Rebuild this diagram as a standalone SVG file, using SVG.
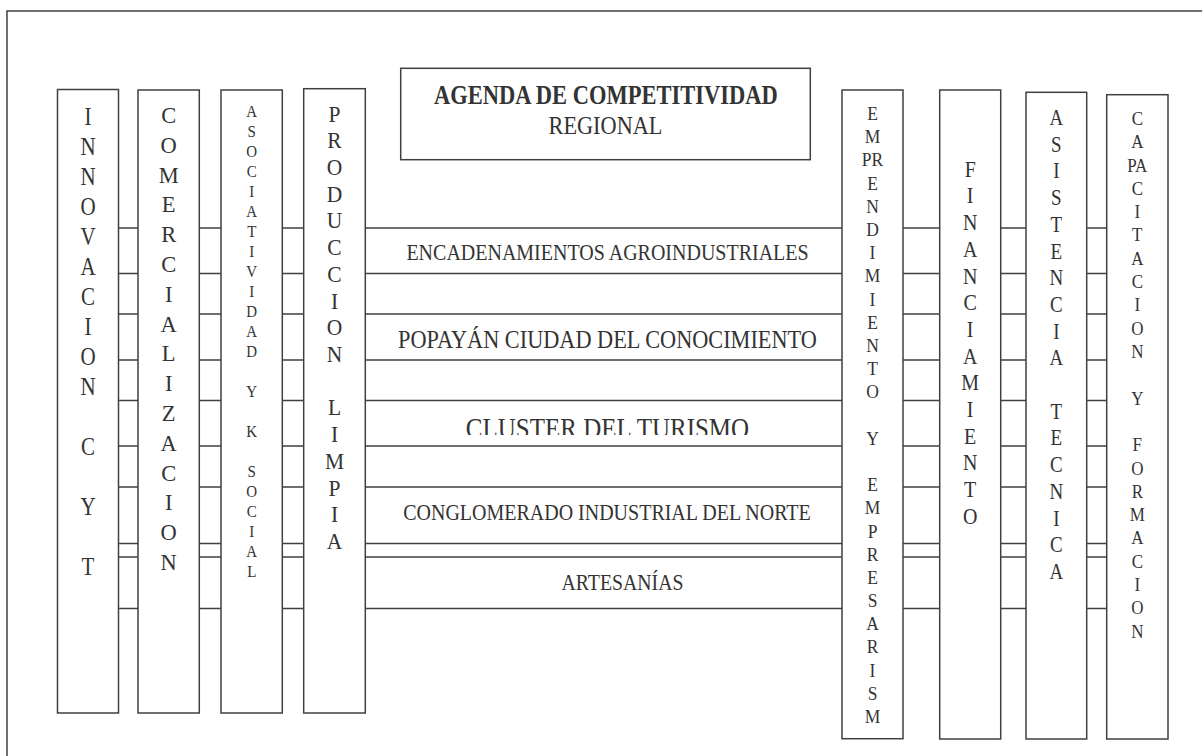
<svg xmlns="http://www.w3.org/2000/svg" width="1202" height="756" viewBox="0 0 1202 756">
<style>
.box{fill:#fff;stroke:#404040;stroke-width:1.5}
.ln{stroke:#404040;stroke-width:1.5;fill:none}
.t{font-family:"Liberation Serif","Times New Roman",serif;fill:#333;text-anchor:middle}
.b{font-weight:bold}
</style>
<defs>
<clipPath id="clipC"><rect x="380" y="400" width="460" height="35"/></clipPath>
</defs>
<rect x="0" y="0" width="1202" height="756" fill="#fff"/>
<path class="ln" d="M7,756 V11 H1202"/>
<g id="connectors">
<path class="ln" d="M118.5,228 H1106.7 M118.5,273.5 H1106.7 M118.5,314 H1106.7 M118.5,360 H1106.7 M118.5,400.5 H1106.7 M118.5,446 H1106.7 M118.5,487 H1106.7 M118.5,543.5 H1106.7 M118.5,557 H1106.7 M118.5,608.5 H1106.7"/>
</g>
<g id="labels">
<text class="t" font-size="20" transform="translate(607.5,260) scale(1,1.13)">ENCADENAMIENTOS AGROINDUSTRIALES</text>
<text class="t" font-size="22.3" transform="translate(607.5,348.3) scale(1,1.13)">POPAYÁN CIUDAD DEL CONOCIMIENTO</text>
<g clip-path="url(#clipC)"><text class="t" font-size="25" transform="translate(607.5,438.2) scale(1,1.2)">CLUSTER DEL TURISMO</text></g>
<text class="t" font-size="20" transform="translate(607,520) scale(1,1.19)">CONGLOMERADO INDUSTRIAL DEL NORTE</text>
<text class="t" font-size="19.8" transform="translate(622.5,590) scale(1,1.2)">ARTESANÍAS</text>
</g>
<g id="title">
<rect class="box" x="400.7" y="68.3" width="409.6" height="91.4"/>
<text class="t b" font-size="22.5" transform="translate(605.8,104.3) scale(1,1.2)">AGENDA DE COMPETITIVIDAD</text>
<text class="t" font-size="22.3" transform="translate(605.5,134) scale(1,1.17)">REGIONAL</text>
</g>
<g id="innovacion">
<rect class="box" x="57.5" y="89.5" width="61" height="623.5"/>
<text class="t" font-size="21" transform="translate(88,125) scale(1,1.18)"><tspan x="0" y="0">I</tspan><tspan x="0" y="25.42">N</tspan><tspan x="0" y="50.85">N</tspan><tspan x="0" y="76.27">O</tspan><tspan x="0" y="101.69">V</tspan><tspan x="0" y="127.12">A</tspan><tspan x="0" y="152.54">C</tspan><tspan x="0" y="177.97">I</tspan><tspan x="0" y="203.39">O</tspan><tspan x="0" y="228.81">N</tspan><tspan x="0" y="279.66">C</tspan><tspan x="0" y="330.51">Y</tspan><tspan x="0" y="381.36">T</tspan></text>
</g>
<g id="comercializacion">
<rect class="box" x="138" y="90" width="61.3" height="623"/>
<text class="t" font-size="22.5" transform="translate(168.7,123) scale(1,1.05)"><tspan x="0" y="0">C</tspan><tspan x="0" y="28.38">O</tspan><tspan x="0" y="56.76">M</tspan><tspan x="0" y="85.14">E</tspan><tspan x="0" y="113.52">R</tspan><tspan x="0" y="141.9">C</tspan><tspan x="0" y="170.28">I</tspan><tspan x="0" y="198.66">A</tspan><tspan x="0" y="227.04">L</tspan><tspan x="0" y="255.42">I</tspan><tspan x="0" y="283.8">Z</tspan><tspan x="0" y="312.18">A</tspan><tspan x="0" y="340.56">C</tspan><tspan x="0" y="368.94">I</tspan><tspan x="0" y="397.32">O</tspan><tspan x="0" y="425.7">N</tspan></text>
</g>
<g id="asociatividad">
<rect class="box" x="221" y="90" width="61.3" height="623"/>
<text class="t" font-size="15" transform="translate(251.7,116.7) scale(1,1.07)"><tspan x="0" y="0">A</tspan><tspan x="0" y="18.69">S</tspan><tspan x="0" y="37.38">O</tspan><tspan x="0" y="56.07">C</tspan><tspan x="0" y="74.76">I</tspan><tspan x="0" y="93.45">A</tspan><tspan x="0" y="112.14">T</tspan><tspan x="0" y="130.83">I</tspan><tspan x="0" y="149.52">V</tspan><tspan x="0" y="168.21">I</tspan><tspan x="0" y="186.9">D</tspan><tspan x="0" y="205.59">A</tspan><tspan x="0" y="224.28">D</tspan><tspan x="0" y="261.66">Y</tspan><tspan x="0" y="299.04">K</tspan><tspan x="0" y="336.42">S</tspan><tspan x="0" y="355.11">O</tspan><tspan x="0" y="373.8">C</tspan><tspan x="0" y="392.49">I</tspan><tspan x="0" y="411.18">A</tspan><tspan x="0" y="429.87">L</tspan></text>
</g>
<g id="produccion">
<rect class="box" x="303.7" y="88.7" width="61.6" height="624.3"/>
<text class="t" font-size="21.5" transform="translate(334.5,121.7) scale(1,1.06)"><tspan x="0" y="0">P</tspan><tspan x="0" y="25.19">R</tspan><tspan x="0" y="50.38">O</tspan><tspan x="0" y="75.57">D</tspan><tspan x="0" y="100.76">U</tspan><tspan x="0" y="125.95">C</tspan><tspan x="0" y="151.14">C</tspan><tspan x="0" y="176.33">I</tspan><tspan x="0" y="201.52">O</tspan><tspan x="0" y="226.71">N</tspan><tspan x="0" y="277.09">L</tspan><tspan x="0" y="302.28">I</tspan><tspan x="0" y="327.47">M</tspan><tspan x="0" y="352.66">P</tspan><tspan x="0" y="377.85">I</tspan><tspan x="0" y="403.04">A</tspan></text>
</g>
<g id="emprendimiento">
<rect class="box" x="842" y="90" width="61" height="648.7"/>
<text class="t" font-size="17.5" transform="translate(872.5,120) scale(1,1.09)"><tspan x="0" y="0">E</tspan><tspan x="0" y="21.28">M</tspan><tspan x="0" y="42.56">PR</tspan><tspan x="0" y="63.84">E</tspan><tspan x="0" y="85.12">N</tspan><tspan x="0" y="106.4">D</tspan><tspan x="0" y="127.68">I</tspan><tspan x="0" y="148.96">M</tspan><tspan x="0" y="170.24">I</tspan><tspan x="0" y="191.52">E</tspan><tspan x="0" y="212.8">N</tspan><tspan x="0" y="234.08">T</tspan><tspan x="0" y="255.36">O</tspan><tspan x="0" y="297.92">Y</tspan><tspan x="0" y="340.48">E</tspan><tspan x="0" y="361.76">M</tspan><tspan x="0" y="383.04">P</tspan><tspan x="0" y="404.32">R</tspan><tspan x="0" y="425.6">E</tspan><tspan x="0" y="446.88">S</tspan><tspan x="0" y="468.16">A</tspan><tspan x="0" y="489.44">R</tspan><tspan x="0" y="510.72">I</tspan><tspan x="0" y="532">S</tspan><tspan x="0" y="553.28">M</tspan></text>
</g>
<g id="financiamiento">
<rect class="box" x="939.7" y="90" width="61" height="649"/>
<text class="t" font-size="20" transform="translate(970.2,176.7) scale(1,1.15)"><tspan x="0" y="0">F</tspan><tspan x="0" y="23.22">I</tspan><tspan x="0" y="46.44">N</tspan><tspan x="0" y="69.66">A</tspan><tspan x="0" y="92.88">N</tspan><tspan x="0" y="116.1">C</tspan><tspan x="0" y="139.32">I</tspan><tspan x="0" y="162.54">A</tspan><tspan x="0" y="185.76">M</tspan><tspan x="0" y="208.98">I</tspan><tspan x="0" y="232.2">E</tspan><tspan x="0" y="255.42">N</tspan><tspan x="0" y="278.64">T</tspan><tspan x="0" y="301.86">O</tspan></text>
</g>
<g id="asistencia">
<rect class="box" x="1026" y="92.3" width="60.7" height="646.7"/>
<text class="t" font-size="19" transform="translate(1056.4,125) scale(1,1.18)"><tspan x="0" y="0">A</tspan><tspan x="0" y="22.63">S</tspan><tspan x="0" y="45.26">I</tspan><tspan x="0" y="67.89">S</tspan><tspan x="0" y="90.52">T</tspan><tspan x="0" y="113.15">E</tspan><tspan x="0" y="135.78">N</tspan><tspan x="0" y="158.41">C</tspan><tspan x="0" y="181.04">I</tspan><tspan x="0" y="203.67">A</tspan><tspan x="0" y="248.93">T</tspan><tspan x="0" y="271.56">E</tspan><tspan x="0" y="294.19">C</tspan><tspan x="0" y="316.82">N</tspan><tspan x="0" y="339.45">I</tspan><tspan x="0" y="362.08">C</tspan><tspan x="0" y="384.71">A</tspan></text>
</g>
<g id="capacitacion">
<rect class="box" x="1106.7" y="94.7" width="61.3" height="644.3"/>
<text class="t" font-size="17" transform="translate(1137.3,125) scale(1,1.13)"><tspan x="0" y="0">C</tspan><tspan x="0" y="20.62">A</tspan><tspan x="0" y="41.24">PA</tspan><tspan x="0" y="61.86">C</tspan><tspan x="0" y="82.48">I</tspan><tspan x="0" y="103.1">T</tspan><tspan x="0" y="123.72">A</tspan><tspan x="0" y="144.34">C</tspan><tspan x="0" y="164.96">I</tspan><tspan x="0" y="185.58">O</tspan><tspan x="0" y="206.2">N</tspan><tspan x="0" y="247.44">Y</tspan><tspan x="0" y="288.68">F</tspan><tspan x="0" y="309.3">O</tspan><tspan x="0" y="329.92">R</tspan><tspan x="0" y="350.54">M</tspan><tspan x="0" y="371.16">A</tspan><tspan x="0" y="391.78">C</tspan><tspan x="0" y="412.4">I</tspan><tspan x="0" y="433.02">O</tspan><tspan x="0" y="453.64">N</tspan></text>
</g>
</svg>
